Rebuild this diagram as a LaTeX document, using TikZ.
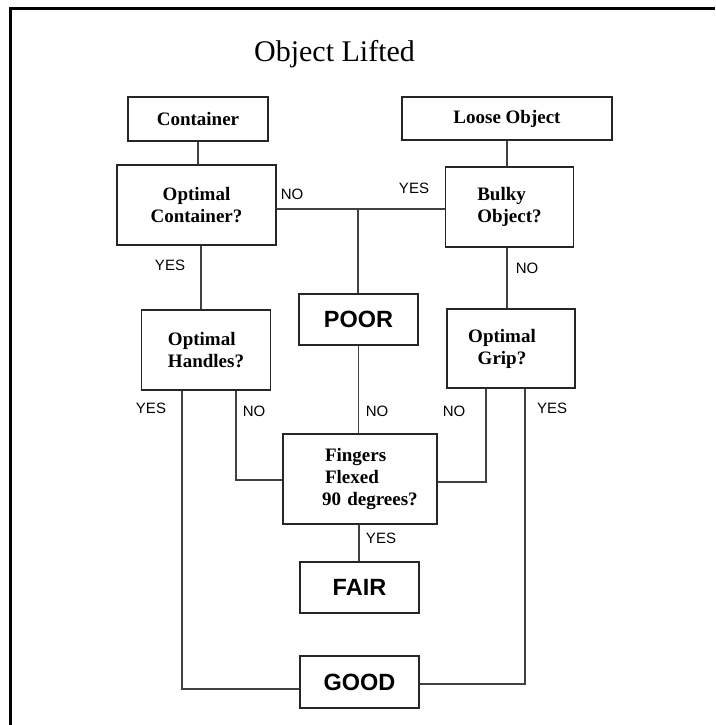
\documentclass[tikz,border=0pt]{standalone}
\usepackage{fontspec}
\setmainfont{Liberation Serif}
\newfontfamily\lsans{Liberation Sans}
\tikzset{
  box/.style={draw=black!85, line width=1.4pt, rectangle, inner sep=0pt,
    font=\fontsize{19}{22}\selectfont\bfseries},
  outbox/.style={draw=black!85, line width=1.4pt, rectangle, inner sep=0pt,
    font=\fontsize{23.5}{26}\selectfont\lsans\bfseries},
  conn/.style={draw=black!75, line width=1.3pt},
  lab/.style={inner sep=0pt, font=\fontsize{15}{17}\selectfont\lsans},
  frameline/.style={draw=black, line width=2.2pt}
}
\begin{document}
\begin{tikzpicture}[x=1pt,y=-1pt]
\useasboundingbox (0,0) rectangle (715,725);
% frame (top and left only)
\draw[frameline] (10.5,725) -- (10.5,8.5) -- (715,8.5);
% title
\node[inner sep=0pt, anchor=base, font=\fontsize{30}{36}\selectfont] (title) at (334.5,61) {Object Lifted};
% boxes
\node[box, minimum width=140pt, minimum height=44pt] (container) at (198,119) {Container};
\node[box, minimum width=210pt, minimum height=43pt] (loose) at (507,118.5) {Loose Object};
\node[box, minimum width=159pt, minimum height=80pt, align=center] (optc) at (196.5,205) {Optimal\\Container?};
\node[box, minimum width=128pt, minimum height=80pt, align=left] (bulky) at (509.5,207) {Bulky\\Object?};
\node[outbox, minimum width=119pt, minimum height=51pt] (poor) at (358.5,319.5) {POOR};
\node[box, minimum width=129pt, minimum height=80pt, align=left] (handles) at (206,350) {Optimal\\Handles?};
\node[box, minimum width=128pt, minimum height=79pt, text width=128pt, align=center] (grip) at (511,348.5) {\hspace*{-18pt}Optimal\\\hspace*{-18pt}Grip?\\[-4pt]};
\node[box, minimum width=154pt, minimum height=90pt, text width=154pt, align=left] (fingers) at (360,479) {\hspace*{42pt}Fingers\\\hspace*{42pt}Flexed\\\hspace*{39pt}90 degrees?};
\node[outbox, minimum width=119pt, minimum height=51pt] (fair) at (359.5,587.5) {FAIR};
\node[outbox, minimum width=119pt, minimum height=52pt] (good) at (359.5,682) {GOOD};
% connectors
\coordinate (j) at (358,209);
\draw[conn] (container.south) -- (container.south |- optc.north);
\draw[conn] (loose.south) -- (loose.south |- bulky.north);
\draw[conn] (optc.east |- j) -- (bulky.west |- j);
\draw[conn] (j) -- (j |- poor.north);
\draw[conn] ([xshift=4.5pt]optc.south) -- ([xshift=4.5pt]optc.south |- handles.north);
\draw[conn] ([xshift=-2.5pt]bulky.south) -- ([xshift=-2.5pt]bulky.south |- grip.north);
\draw[conn] (poor.south) -- (poor.south |- fingers.north);
\draw[conn] ([xshift=-1pt]fingers.south) -- ([xshift=-1pt]fingers.south |- fair.north);
\draw[conn] ([xshift=-24pt]handles.south) |- ([yshift=-7pt]good.west);
\draw[conn] ([xshift=30pt]handles.south) |- ([yshift=-1pt]fingers.west);
\draw[conn] ([xshift=-25pt]grip.south) |- ([yshift=-3pt]fingers.east);
\draw[conn] ([xshift=14pt]grip.south) |- ([yshift=-2pt]good.east);
% labels
\node[lab] (l1) at (292,194) {NO};
\node[lab] (l2) at (414,188) {YES};
\node[lab] (l3) at (170,265) {YES};
\node[lab] (l4) at (527,268) {NO};
\node[lab] (l5) at (151,408) {YES};
\node[lab] (l6) at (254,411) {NO};
\node[lab] (l7) at (377,411) {NO};
\node[lab] (l8) at (454,411) {NO};
\node[lab] (l9) at (552,408) {YES};
\node[lab] (l10) at (381,538) {YES};
\end{tikzpicture}
\end{document}
